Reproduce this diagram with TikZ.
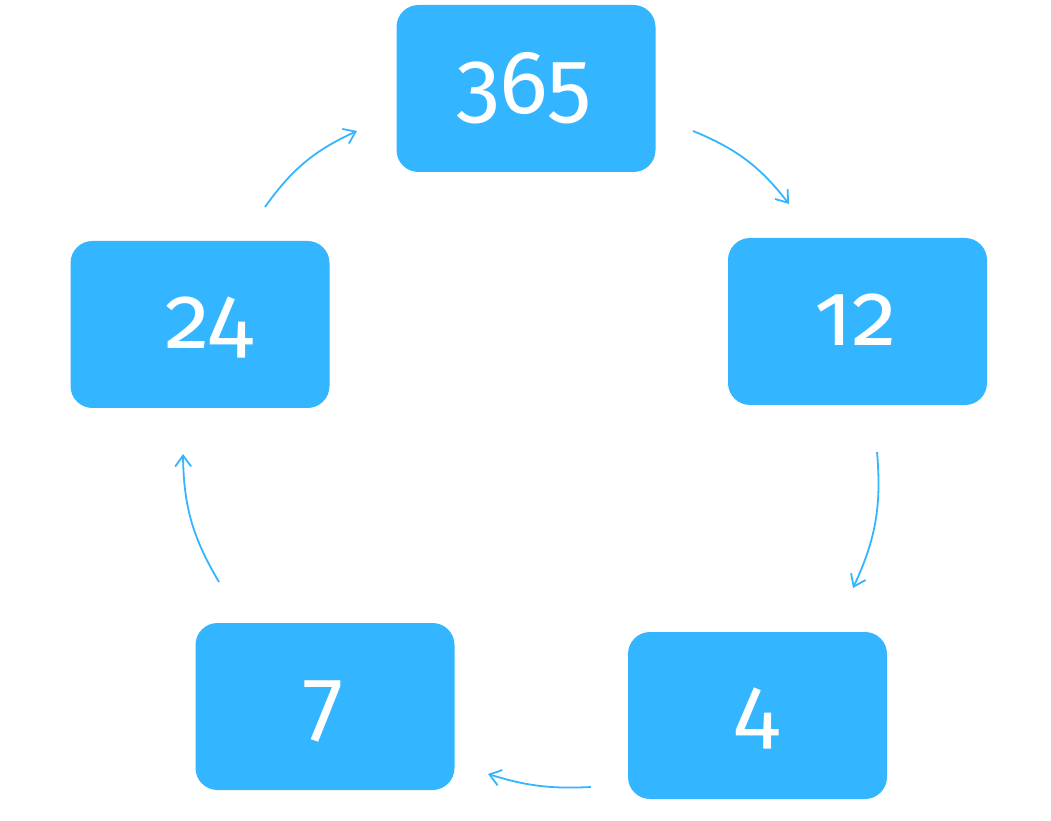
\documentclass[tikz,border=0pt]{standalone}
\usepackage{fontspec}
\usetikzlibrary{arrows.meta,positioning,calc}
\newfontfamily\numfont{Fira Sans}[Numbers=OldStyle]
\definecolor{cycblue}{RGB}{51,181,255}
\tikzset{
  cbox/.style={rectangle, fill=cycblue, rounded corners=22pt, minimum width=259pt, minimum height=167pt, inner sep=0pt},
  clab/.style={anchor=base, inner sep=0pt, text=white, font=\numfont\fontsize{90}{90}\selectfont},
  carr/.style={-{Straight Barb[length=11pt, width=16pt]}, cycblue, line width=1.8pt, bend left=15},
}
\begin{document}
\begin{tikzpicture}[x=1pt, y=1pt]
 \useasboundingbox (0,0) rectangle (1051,820);
 % boxes
 \node[cbox] (b365) at (526,731.5) {};
 \node[cbox] (b12)  at (857.5,498.5) {};
 \node[cbox] (b4)   at (757.5,104.5) {};
 \node[cbox] (b7)   at (325,113.5) {};
 \node[cbox] (b24)  at (200,495.5) {};
 % numbers
 \node[clab] (l365) at ($(b365.center)+(-2,-25)$) {365};
 \node[clab] (l12)  at ($(b12.center)+(-2,-24)$) {12};
 \node[clab] (l4)   at ($(b4.center)+(-1,-24)$) {4};
 \node[clab] (l7)   at ($(b7.center)+(-1,-25)$) {7};
 \node[clab] (l24)  at ($(b24.center)+(9,-24)$) {24};
 % arrow ends
 \coordinate (a1s) at (265,613);  \coordinate (a1e) at (357,689);
 \coordinate (a2s) at (693,689);  \coordinate (a2e) at (789,616);
 \coordinate (a3s) at (877,368);  \coordinate (a3e) at (853,232);
 \coordinate (a4s) at (591,33);   \coordinate (a4e) at (488,46);
 \coordinate (a5s) at (219,238);  \coordinate (a5e) at (183,366);
 \draw[carr] (a1s) to (a1e);
 \draw[carr] (a2s) to (a2e);
 \draw[carr] (a3s) to (a3e);
 \draw[carr, bend left=10] (a4s) to (a4e);
 \draw[carr] (a5s) to (a5e);
\end{tikzpicture}
\end{document}
